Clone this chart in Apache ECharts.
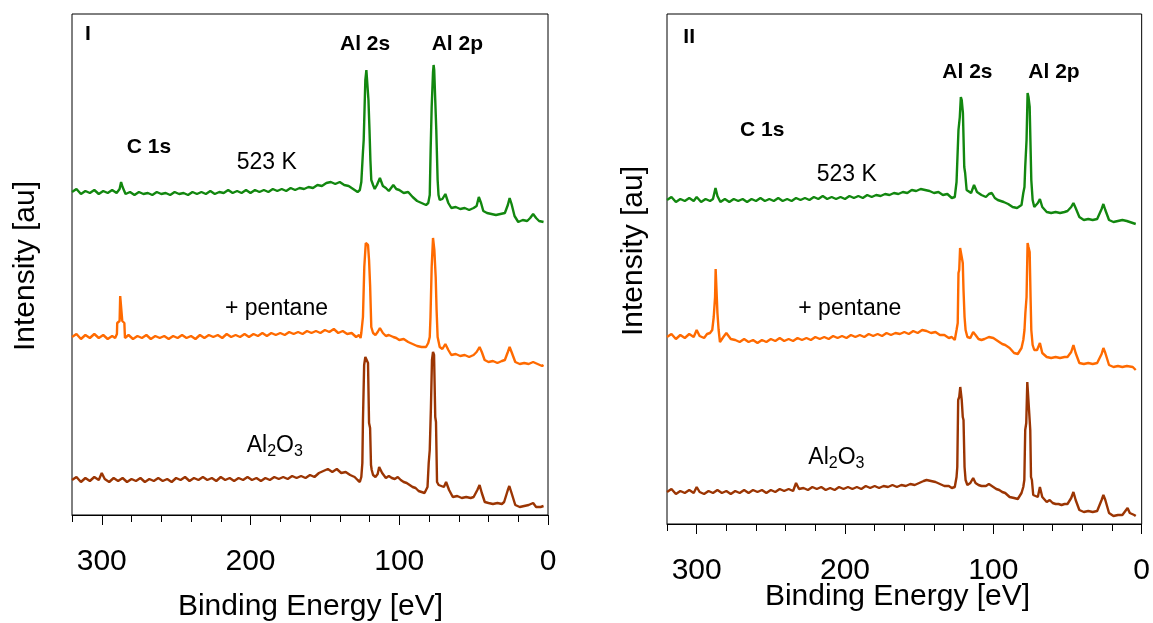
<!DOCTYPE html>
<html>
<head>
<meta charset="utf-8">
<script src="https://cdn.jsdelivr.net/npm/echarts@6/dist/echarts.min.js"></script>
<style>
html,body{margin:0;padding:0;background:#fff;}
#chart{width:1153px;height:623px;}
</style>
</head>
<body>
<div id="chart"></div>
<script>
// Binding energy [eV] axis ticks
const tickLabels = [0, 100, 200, 300];

// Panel I traces: [binding energy eV, intensity (au, offset)]
const g1 = [[320,323],[317,326],[314,321],[311,324],[308,322],[305,325],[302,321],[299,324],[296,322],[293,325],[290,322],[288,326],[287,333],[286,328],[284,321],[281,323],[278,320],[275,323],[272,321],[269,322],[266,320],[263,323],[260,321],[257,322],[254,320],[251,323],[248,321],[245,322],[242,320],[239,323],[236,321],[233,323],[230,321],[227,324],[224,321],[221,323],[218,322],[215,325],[212,322],[209,324],[206,322],[203,325],[200,322],[197,325],[194,323],[191,325],[188,323],[185,326],[182,324],[179,326],[176,324],[173,327],[170,325],[167,327],[164,326],[161,328],[158,327],[155,330],[152,329],[149,332],[146,333],[143,331],[140,333],[137,330],[134,329],[131,326],[128,323],[126.5,325],
[125.5,333],[124.4,363],[123.9,375],[122.8,435],[122.1,445],[121.3,443],[120.7,415],[120.0,385],[119.4,355],[118.8,335],[117.6,330],[116.5,326],[115,330],[113,337],[111,329],[109,327],[107,324],[104,330],[102,326],[100,325],[97,322],[94,323],[91,318],[88,314],[85,312],[82,310],[80.5,312],
[79.5,320],[78.9,365],[78.2,408],[77.3,443],[76.9,450],[76.5,445],[75.8,415],[75.1,385],[74.2,335],[73.6,320],[72.8,315],[71,316],[69,321],[67,312],[65,307],[62,308],[59,306],[56,307],[53,305],[50,307],[48,309],[46.5,318],[45,312],[43.5,304],[41,302],[38,301],[35,300],[32,301],[29,302],[27,310],[25.8,317],[24.5,311],[22.5,299],[20,293],[17,295],[14,294],[12,297],[10,301],[8,297],[6,294],[3,293]];

const o1 = [[320,178],[317,181],[314,176],[311,180],[308,177],[305,181],[302,177],[299,180],[296,176],[293,179],[291,177],[289.8,181],[289.6,192],[288,194],[287.6,219],[286.8,220],[286.2,194],[284.8,192],[284.4,177],[282,180],[279,176],[276,179],[273,177],[270,180],[267,176],[264,179],[261,177],[258,179],[255,176],[252,179],[249,177],[246,180],[243,177],[240,179],[237,176],[234,180],[231,177],[228,180],[225,178],[222,180],[219,177],[216,181],[213,178],[210,180],[207,178],[204,181],[201,178],[198,181],[195,179],[192,182],[189,179],[186,182],[183,180],[180,182],[177,180],[174,183],[171,181],[168,183],[165,181],[162,184],[159,182],[156,184],[153,182],[150,185],[147,183],[144,186],[141,182],[138,184],[135,181],[132,182],[129,178],[127,180],[126,177],
[125.5,182],[124.4,198],[123.5,248],[122.5,272],[121.8,273],[121.0,270],[120.3,255],[119.6,230],[118.8,188],[117.6,182],[116,180],[114.5,183],[113,187],[111,182],[109,179],[107,180],[104,178],[102,177],[100,175],[97,176],[94,173],[91,171],[88,169],[85,168],[82,168],[80.5,172],
[79.5,178],[79.0,198],[78.2,248],[77.3,277],[76.9,278],[76.4,265],[75.5,238],[74.9,205],[74.2,178],[73.5,173],[72.8,168],[71,166],[69,171],[67,165],[65,160],[62,161],[59,159],[56,160],[53,158],[50,160],[48,163],[46,168],[44.5,163],[42.6,155],[40,153],[37,154],[34,152],[31,154],[29,155],[27,163],[25.8,168],[24.5,163],[22,153],[19,151],[16,152],[13,151],[10,153],[7,151],[4,149],[3,150]];

const b1 = [[320,35],[317,38],[314,33],[311,37],[308,34],[305,38],[302,35],[300,42],[298,36],[295,33],[292,37],[289,34],[286,37],[283,33],[280,36],[277,34],[274,37],[271,33],[268,36],[265,34],[262,37],[259,34],[256,36],[253,33],[250,37],[247,35],[244,38],[241,34],[238,37],[235,35],[232,38],[229,35],[226,37],[223,34],[220,38],[217,35],[214,37],[211,34],[208,37],[205,35],[202,38],[199,35],[196,37],[193,34],[190,37],[187,35],[184,38],[181,36],[178,38],[175,36],[172,39],[169,37],[166,39],[163,37],[160,40],[157,38],[154,42],[151,44],[148,46],[145,43],[142,46],[139,42],[136,43],[133,40],[130,38],[128,35],[126.5,33],
[125.5,38],[124.8,52],[124.4,95],[123.6,150],[122.8,158],[121.8,157],[121.0,152],[120.3,92],[119.6,87],[119.0,50],[118.5,45],[117.6,40],[116,38],[114.5,41],[113.5,48],[111.5,42],[109,37],[107,39],[105,37],[103,36],[101,38],[99,35],[97,33],[95,32],[93,30],[91,28],[89,27],[87,24],[85,23],[83,22],[81,28],
[80.2,52],[79.5,65],[78.7,108],[78.0,155],[77.3,163],[76.6,160],[75.8,98],[75.3,93],[74.6,33],[73.5,30],[72.5,28],[70,28],[68.5,33],[66.5,25],[64,18],[61,19],[58,17],[55,18],[52,17],[50,18],[47.5,25],[46,30],[44.5,22],[42.5,13],[40,12],[37,11],[34,12],[31,11],[29.5,13],[27,25],[26,29],[24.5,22],[22,10],[19,8],[16,9],[13,10],[10,12],[8,8],[5,8],[3,9]];

// Panel II traces
const g2 = [[320,324],[317,327],[314,322],[311,325],[308,323],[305,326],[302,323],[300,327],[297,322],[294,325],[291,323],[289,325],[287.3,336],[286,328],[284,322],[281,325],[278,322],[275,325],[272,323],[269,325],[266,322],[263,325],[260,323],[257,326],[254,323],[251,325],[248,323],[245,326],[242,323],[239,325],[236,323],[233,326],[230,324],[227,326],[224,324],[221,327],[218,325],[215,328],[212,325],[209,327],[206,325],[203,327],[200,325],[197,328],[194,326],[191,328],[188,326],[185,329],[182,327],[179,329],[176,328],[173,330],[170,329],[167,331],[164,330],[161,332],[158,331],[155,334],[152,333],[149,335],[146,334],[143,333],[140,331],[137,332],[134,329],[131,330],[128,326],[126,327],
[124.8,342],[124.0,342],[123.5,394],[122.6,407],[121.9,427],[121.3,424],[120.5,411],[119.6,357],[119.0,351],[118.0,334],[117,332],[115,331],[113,339],[111,332],[108,329],[105,327],[103,330],[101,331],[99,326],[97,324],[95,323],[93,322],[90,320],[87,317],[84,316],[81,319],
[79.8,331],[79.0,337],[78.5,357],[77.6,384],[76.9,431],[76.3,427],[75.5,417],[74.9,377],[74.4,344],[73.5,324],[72.4,317],[70,321],[68.6,325],[67,317],[64,312],[61,311],[58,312],[55,311],[52,312],[50,313],[47.5,317],[46,321],[44.5,316],[42,307],[39,304],[36,305],[33,304],[30,305],[29,306],[27,315],[25.8,320],[24.5,314],[22,304],[19,302],[16,303],[13,304],[10,303],[9,305],[6,301],[4,300]];

const o2 = [[320,187],[317,190],[314,185],[311,189],[308,186],[305,190],[302,187],[300,194],[298,188],[295,186],[293,190],[291,191],[289.5,194],[288.5,207],[287.6,227],[287.2,255],[286.5,255],[286.0,211],[285.2,194],[284.3,182],[282,187],[280,191],[277,185],[274,184],[271,182],[268,185],[265,182],[262,184],[259,181],[256,184],[253,182],[250,185],[247,183],[244,186],[241,183],[238,185],[235,183],[232,186],[229,184],[226,186],[223,184],[220,187],[217,185],[214,187],[211,185],[208,188],[205,186],[202,188],[199,186],[196,189],[193,187],[190,189],[187,187],[184,190],[181,188],[178,190],[175,188],[172,191],[169,189],[166,191],[163,190],[160,192],[157,190],[154,193],[151,191],[148,194],[145,193],[142,191],[139,192],[136,189],[133,189],[130,186],[128,187],[126,184],
[124.8,194],[124.0,201],[123.5,251],[123.0,254],[122.4,276],[121.9,277],[121.3,267],[120.6,261],[120.1,234],[119.4,207],[118.7,194],[117.5,187],[115.5,186],[113.6,192],[112,189],[110,185],[108,184],[106,185],[103,187],[100,186],[98,184],[96,182],[94,180],[92,179],[89,176],[86,171],[83.5,170],[81,176],
[79.8,184],[79.0,194],[78.4,211],[77.6,227],[76.9,281],[76.3,277],[75.5,272],[74.9,227],[74.4,194],[73.5,179],[72.4,174],[70.5,174],[68.6,181],[67,171],[64,167],[61,166],[58,167],[55,166],[52,167],[50,167],[47.5,172],[46,179],[44.5,171],[42,161],[39,160],[36,161],[33,160],[30,161],[29,161],[27,170],[25.8,176],[24.5,171],[22,159],[19,157],[16,158],[13,157],[10,158],[9,159],[6,157],[4,154]];

const b2 = [[320,32],[317,35],[314,30],[311,33],[308,31],[305,34],[302,31],[300,37],[298,32],[295,30],[292,33],[289,31],[286,34],[283,31],[280,33],[277,30],[274,33],[271,31],[268,34],[265,31],[262,34],[259,32],[256,34],[253,31],[250,34],[247,32],[244,35],[241,33],[238,35],[235,33],[233,41],[231,35],[228,36],[225,34],[222,37],[219,35],[216,37],[213,34],[210,36],[207,34],[204,37],[201,35],[198,37],[195,35],[192,37],[189,35],[186,38],[183,36],[180,38],[177,36],[174,38],[171,37],[168,39],[165,37],[162,39],[159,38],[156,40],[153,39],[150,41],[147,43],[145,44],[142,43],[139,42],[136,40],[133,38],[130,38],[128,36],[126,37],
[124.8,47],[124.3,57],[123.7,124],[123.0,127],[122.3,137],[121.9,137],[121.3,124],[120.6,107],[120.1,104],[119.4,57],[118.7,44],[117.5,39],[115.5,41],[113.6,46],[112,41],[110,39],[108,38],[105,38],[103,40],[100,37],[98,35],[96,34],[94,32],[92,31],[89,27],[86,26],[83.5,25],[81,31],
[79.8,37],[79.1,44],[78.5,94],[77.8,101],[77.1,142],[76.5,141],[75.8,111],[75.1,94],[74.6,47],[74.0,44],[73.1,29],[72,27],[70,27],[68.6,37],[67,27],[64,22],[62,24],[60,21],[58,20],[56,20],[54,19],[52,20],[50,20],[47.5,26],[46,32],[44.5,24],[42,14],[39,12],[36,13],[33,12],[30,13],[29,13],[27,24],[25.8,29],[24.5,24],[22,11],[19,8],[16,9],[13,9],[12,10],[9.5,16],[8,11],[5,9],[4,8]];

const COLORS = {green: '#12870f', orange: '#ff6a00', brown: '#9b3503'};
const FONT = 'Liberation Sans, Arial, sans-serif';

const chart = echarts.init(document.getElementById('chart'), null, {renderer: 'canvas'});

function xAxes(grid) {
  return [
    {
      gridIndex: grid, position: 'bottom', type: 'value', min: 0, max: 320, interval: 20, inverse: true,
      axisLine: {show: true, onZero: false, lineStyle: {color: '#000', width: 1}},
      axisTick: {show: true, inside: false, length: 7, lineStyle: {color: '#000', width: 1}},
      axisLabel: {show: true, customValues: tickLabels, margin: 32, fontSize: 30, color: '#000', fontFamily: FONT},
      splitLine: {show: false}
    },
    {
      gridIndex: grid, position: 'bottom', type: 'value', min: 0, max: 320, interval: 20, inverse: true,
      axisLine: {show: false, onZero: false},
      axisTick: {show: true, inside: false, length: 10, customValues: tickLabels, lineStyle: {color: '#000', width: 1}},
      axisLabel: {show: false},
      splitLine: {show: false}
    }
  ];
}
function yAxis(grid, max) {
  return {
    gridIndex: grid, type: 'value', min: 0, max: max,
    axisLine: {show: false}, axisTick: {show: false}, axisLabel: {show: false}, splitLine: {show: false}
  };
}
function line(data, color, xi, yi) {
  return {
    type: 'line', data: data, xAxisIndex: xi, yAxisIndex: yi,
    showSymbol: false, symbol: 'none', smooth: false,
    lineStyle: {color: color, width: 2.4}, silent: true
  };
}
function txt(x, y, s, size, bold) {
  return {type: 'text', x: x, y: y, silent: true,
    style: {text: s, fontSize: size, fontWeight: bold ? 'bold' : 'normal', fontFamily: FONT, fill: '#000', align: 'left', verticalAlign: 'middle'}};
}
function al2o3(x, y) {
  return {type: 'text', x: x, y: y, silent: true,
    style: {text: '{a|Al}{b|2}{a|O}{b|3}', fontFamily: FONT, fill: '#000', align: 'left', verticalAlign: 'top',
      rich: {
        a: {fontSize: 23, lineHeight: 23, verticalAlign: 'top', fontFamily: FONT, fill: '#000'},
        b: {fontSize: 16, lineHeight: 16, padding: [9, 0, 0, 0], verticalAlign: 'top', fontFamily: FONT, fill: '#000'}
      }}};
}
function axisName(x, y, s, rot) {
  return {type: 'text', x: x, y: y, rotation: rot || 0, silent: true,
    style: {text: s, fontSize: 30, fontFamily: FONT, fill: '#000', align: 'center', verticalAlign: 'middle'}};
}

const option = {
  animation: false,
  backgroundColor: '#fff',
  grid: [
    {left: 72, top: 14, width: 476, height: 501, show: true, borderColor: '#000', borderWidth: 1, backgroundColor: 'transparent'},
    {left: 667, top: 14, width: 475, height: 510, show: true, borderColor: '#000', borderWidth: 1, backgroundColor: 'transparent'}
  ],
  xAxis: xAxes(0).concat(xAxes(1)),
  yAxis: [yAxis(0, 501), yAxis(1, 510)],
  series: [
    line(g1, COLORS.green, 0, 0),
    line(o1, COLORS.orange, 0, 0),
    line(b1, COLORS.brown, 0, 0),
    line(g2, COLORS.green, 2, 1),
    line(o2, COLORS.orange, 2, 1),
    line(b2, COLORS.brown, 2, 1)
  ],
  graphic: [
    txt(85, 34, 'I', 21, true),
    txt(340, 44, 'Al 2s', 21, true),
    txt(431.7, 44, 'Al 2p', 21, true),
    txt(126.7, 147.5, 'C 1s', 21, true),
    txt(236.7, 162.5, '523 K', 23, false),
    txt(225, 308.5, '+ pentane', 23, false),
    al2o3(246.7, 434.2),
    txt(683.3, 37.5, 'II', 21, true),
    txt(942.3, 72, 'Al 2s', 21, true),
    txt(1028.3, 72, 'Al 2p', 21, true),
    txt(740, 130, 'C 1s', 21, true),
    txt(816.7, 175, '523 K', 23, false),
    txt(798.3, 309, '+ pentane', 23, false),
    al2o3(808.3, 446.5),
    axisName(310.5, 607, 'Binding Energy [eV]'),
    axisName(897.5, 597, 'Binding Energy [eV]'),
    axisName(26, 266, 'Intensity [au]', Math.PI / 2),
    axisName(634, 251, 'Intensity [au]', Math.PI / 2)
  ]
};
chart.setOption(option);
</script>
</body>
</html>
